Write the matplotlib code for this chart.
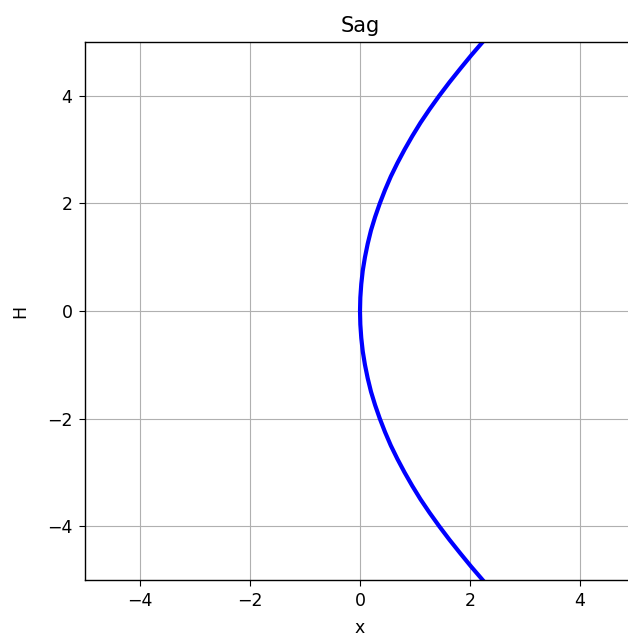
import numpy as np
import matplotlib
matplotlib.use("Agg")
import matplotlib.pyplot as plt

# sag curve (H -> x), upper half; lower half mirrors it
h_vals = [0.0, 0.25, 0.5, 0.75, 1.0, 1.25, 1.5, 1.75, 2.0, 2.25, 2.5,
          2.75, 3.0, 3.25, 3.5, 3.75, 4.0, 4.25, 4.5, 4.75, 5.0]
x_vals = [0.0, 0.006, 0.023, 0.05, 0.09, 0.14, 0.2, 0.275, 0.36, 0.455, 0.56,
          0.68, 0.81, 0.95, 1.10, 1.265, 1.44, 1.625, 1.82, 2.02, 2.23]

H = np.array([-h for h in h_vals[:0:-1]] + h_vals)
x = np.array(x_vals[:0:-1] + x_vals)

plt.rcParams['font.size'] = 12.5
plt.rcParams['xtick.major.size'] = 4.5
plt.rcParams['ytick.major.size'] = 4.5
plt.rcParams['xtick.major.pad'] = 4.5
plt.rcParams['ytick.major.pad'] = 4.5
plt.rcParams['axes.linewidth'] = 1.0

fig = plt.figure(figsize=(6.28, 6.41), dpi=100)
ax = fig.add_axes([85 / 628, 61 / 641, 550 / 628, 538 / 641])
ax.plot(x, H, color='blue', linewidth=3)
ax.set_xlim(-5, 5)
ax.set_ylim(-5, 5)
ax.grid(True)
ax.set_title('Sag', pad=7)
ax.set_xlabel('x', labelpad=6)
ax.set_ylabel('H', labelpad=13)

fig.savefig('out.png', dpi=100)
